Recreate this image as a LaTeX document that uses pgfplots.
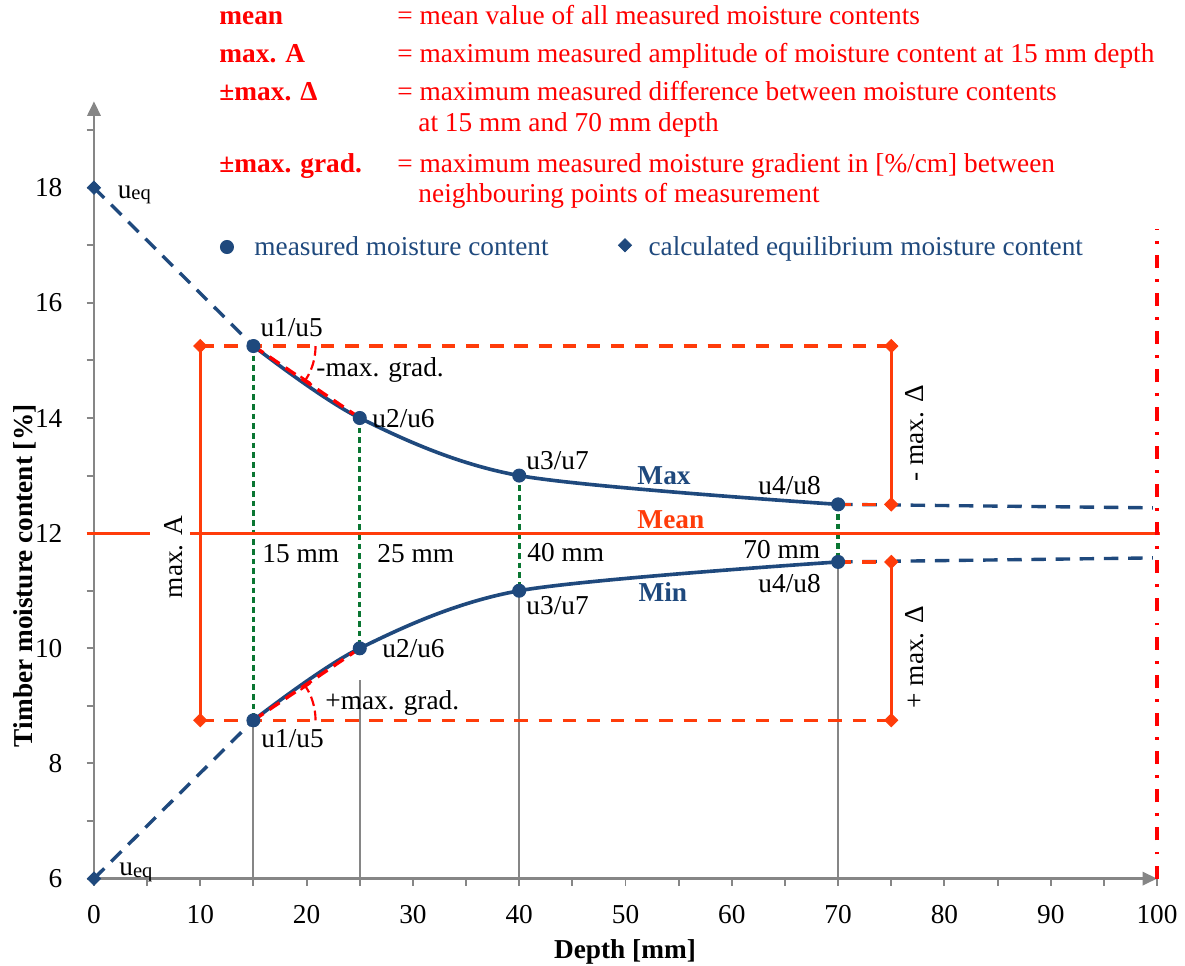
\documentclass[border=0pt]{standalone}
\usepackage{fontspec}
\setmainfont{Liberation Serif}
\usepackage{pgfplots}
\pgfplotsset{compat=1.18}
\usetikzlibrary{arrows.meta}

\definecolor{cblue}{RGB}{31,73,125}
\definecolor{corange}{RGB}{255,60,10}
\definecolor{cred}{RGB}{255,0,0}
\definecolor{cgreen}{RGB}{10,118,50}
\definecolor{cgray}{RGB}{134,134,134}

\newcommand{\fs}{\fontsize{11.3}{13.5}\selectfont}
\newcommand{\ueq}{u\raisebox{-0.6pt}{\fontsize{8.5}{9}\selectfont eq}}

\begin{document}
\begin{tikzpicture}[font=\fs, lab/.style={anchor=base west, inner sep=0pt}]
\begin{axis}[
  x=4.4pt, y=23.83pt,
  xmin=0, xmax=100, ymin=6, ymax=19.5,
  axis x line=bottom, axis y line=left,
  axis line style={cgray, line width=1pt, -{Triangle[length=6pt,width=5.5pt]}},
  xtick={0,10,...,100}, minor xtick={5,15,...,95},
  ytick={6,8,...,18}, minor ytick={7,9,...,19},
  xtick align=outside, ytick align=outside,
  major tick length=3pt, minor tick length=3pt,
  every tick/.style={cgray, line width=0.8pt},
  xticklabel style={anchor=north, inner sep=0pt, yshift=-8pt, font=\fs},
  yticklabel style={anchor=east, inner sep=0pt, xshift=-9.9pt, font=\fs},
  /pgf/number format/assume math mode=true,
  clip=false,
]
% drop lines
\addplot[cgray, line width=0.8pt] coordinates {(15,6) (15,8.73)};
\addplot[cgray, line width=0.8pt] coordinates {(25,6) (25,9.45)};
\addplot[cgray, line width=0.8pt] coordinates {(40,6) (40,11)};
\addplot[cgray, line width=0.8pt] coordinates {(70,6) (70,11.5)};

% green depth markers
\addplot[cgreen, line width=1.4pt, dash pattern=on 2.4pt off 1.6pt] coordinates {(15,15.25) (15,8.75)};
\addplot[cgreen, line width=1.4pt, dash pattern=on 2.4pt off 1.6pt] coordinates {(25,14) (25,10)};
\addplot[cgreen, line width=1.4pt, dash pattern=on 2.4pt off 1.6pt] coordinates {(40,13) (40,11)};
\addplot[cgreen, line width=1.4pt, dash pattern=on 2.4pt off 1.6pt] coordinates {(70,12.5) (70,11.5)};

% mean line
\addplot[corange, line width=1.3pt] coordinates {(-0.66,12) (5.27,12)};
\addplot[corange, line width=1.3pt] coordinates {(9.03,12) (100.3,12)};

% amplitude / delta brackets
\addplot[corange, line width=1.3pt] coordinates {(10,8.75) (10,15.25)};
\addplot[corange, line width=1.3pt] coordinates {(75,12.5) (75,15.25)};
\addplot[corange, line width=1.3pt] coordinates {(75,8.75) (75,11.5)};

% blue extensions
\addplot[cblue, line width=1.4pt, dash pattern=on 6pt off 4pt] coordinates {(0,18) (15,15.25)};
\addplot[cblue, line width=1.4pt, dash pattern=on 6pt off 4pt] coordinates {(0,6) (15,8.75)};
\addplot[cblue, line width=1.4pt, dash pattern=on 6pt off 4pt] coordinates {(70,12.5) (99.6,12.44)};
\addplot[cblue, line width=1.4pt, dash pattern=on 6pt off 4pt] coordinates {(70,11.5) (99.6,11.57)};

% orange dashed levels
\addplot[corange, line width=1.4pt, dash pattern=on 5.5pt off 4.5pt] coordinates {(10,15.25) (75,15.25)};
\addplot[corange, line width=1.4pt, dash pattern=on 5.5pt off 4.5pt] coordinates {(10,8.75) (75,8.75)};
\addplot[corange, line width=1.4pt, dash pattern=on 5.5pt off 4.5pt] coordinates {(70,12.5) (75,12.5)};
\addplot[corange, line width=1.4pt, dash pattern=on 5.5pt off 4.5pt] coordinates {(70,11.5) (75,11.5)};

% right border
\addplot[cred, line width=1.3pt, dash pattern=on 5.4pt off 4.6pt on 1.2pt off 4.6pt] coordinates {(100,6) (100,17.29)};

% Max / Min curves
\addplot[cblue, line width=1.5pt, smooth] coordinates {(15,15.25) (25,14) (40,13) (70,12.5)};
\addplot[cblue, line width=1.5pt, smooth] coordinates {(15,8.75) (25,10) (40,11) (70,11.5)};

% gradients
\addplot[cred, line width=1.4pt, dash pattern=on 5pt off 3pt] coordinates {(15,15.25) (25,14)};
\addplot[cred, line width=1.4pt, dash pattern=on 5pt off 3pt] coordinates {(15,8.75) (25,10)};
\draw[cred, line width=0.9pt, dash pattern=on 4pt off 2pt, -{Bar[width=5pt]}]
  (axis cs:15,15.25) ++(0:25.7pt) arc[start angle=0, end angle=-34, radius=25.7pt];
\draw[cred, line width=0.9pt, dash pattern=on 4pt off 2pt, -{Bar[width=5pt]}]
  (axis cs:15,8.75) ++(0:25.7pt) arc[start angle=0, end angle=34, radius=25.7pt];

% markers
\addplot[only marks, mark=*, mark size=2.7pt, cblue] coordinates {(15,15.25) (25,14) (40,13) (70,12.5) (15,8.75) (25,10) (40,11) (70,11.5)};
\addplot[only marks, mark=square*, mark size=1.9pt, mark options={rotate=45}, cblue] coordinates {(0,18) (0,6)};
\addplot[only marks, mark=square*, mark size=1.9pt, mark options={rotate=45}, corange] coordinates {(10,15.25) (10,8.75) (75,15.25) (75,12.5) (75,11.5) (75,8.75)};
\addplot[only marks, mark=*, mark size=2.7pt, cblue] coordinates {(12.51,16.97)};
\addplot[only marks, mark=square*, mark size=1.9pt, mark options={rotate=45}, cblue] coordinates {(49.95,17.0)};

% explanation block
\node[lab, cred, font=\fs\bfseries] at (axis cs:11.76,20.84) {mean};
\node[lab, cred, font=\fs\bfseries] at (axis cs:11.76,20.17) {max. A};
\node[lab, cred, font=\fs\bfseries] at (axis cs:11.76,19.51) {±max. Δ};
\node[lab, cred, font=\fs\bfseries] at (axis cs:11.76,18.27) {±max. grad.};
\node[lab, cred] at (axis cs:28.50,20.84) {= mean value of all measured moisture contents};
\node[lab, cred] at (axis cs:28.50,20.17) {= maximum measured amplitude of moisture content at 15 mm depth};
\node[lab, cred] at (axis cs:28.50,19.51) {= maximum measured difference between moisture contents};
\node[lab, cred] at (axis cs:30.48,18.97) {at 15 mm and 70 mm depth};
\node[lab, cred] at (axis cs:28.50,18.27) {= maximum measured moisture gradient in [\%/cm] between};
\node[lab, cred] at (axis cs:30.48,17.75) {neighbouring points of measurement};
\node[lab, cblue] at (axis cs:15.05,16.83) {measured moisture content};
\node[lab, cblue] at (axis cs:52.12,16.83) {calculated equilibrium moisture content};

% point labels
\node[lab] at (axis cs:2.2,17.82) {\ueq};
\node[lab] at (axis cs:2.35,6.05) {\ueq};
\node[lab] at (axis cs:15.62,15.41) {u1/u5};
\node[lab] at (axis cs:26.15,13.83) {u2/u6};
\node[lab] at (axis cs:40.64,13.10) {u3/u7};
\node[lab] at (axis cs:62.46,12.67) {u4/u8};
\node[lab] at (axis cs:15.71,8.27) {u1/u5};
\node[lab] at (axis cs:27.09,9.84) {u2/u6};
\node[lab] at (axis cs:40.64,10.58) {u3/u7};
\node[lab] at (axis cs:62.46,10.97) {u4/u8};
\node[lab, cblue, font=\fs\bfseries] at (axis cs:51.08,12.84) {Max};
\node[lab, cblue, font=\fs\bfseries] at (axis cs:51.18,10.81) {Min};
\node[lab, corange, font=\fs\bfseries] at (axis cs:51.08,12.08) {Mean};
\node[lab] at (axis cs:15.8,11.49) {15 mm};
\node[lab] at (axis cs:26.62,11.49) {25 mm};
\node[lab] at (axis cs:40.73,11.50) {40 mm};
\node[lab] at (axis cs:61.05,11.56) {70 mm};
\node[lab] at (axis cs:20.88,14.72) {-max. grad.};
\node[lab] at (axis cs:21.73,8.93) {+max. grad.};
\node[rotate=90] at (axis cs:7.53,11.59) {max. A};
\node[rotate=90] at (axis cs:77.23,13.73) {- max. Δ};
\node[rotate=90] at (axis cs:77.23,9.85) {+ max. Δ};

% axis titles
\node[rotate=90, anchor=base, font=\fs\bfseries] at (axis cs:-5.74,11.26) {Timber moisture content [\%]};
\node[anchor=base, font=\fs\bfseries] at (axis cs:49.95,4.62) {Depth [mm]};

\coordinate (bbSW) at (axis cs:-8.84,4.49);
\coordinate (bbNE) at (axis cs:102.63,21.26);
\end{axis}
\pgfresetboundingbox
\path[use as bounding box] (bbSW) rectangle (bbNE);
\end{tikzpicture}
\end{document}
